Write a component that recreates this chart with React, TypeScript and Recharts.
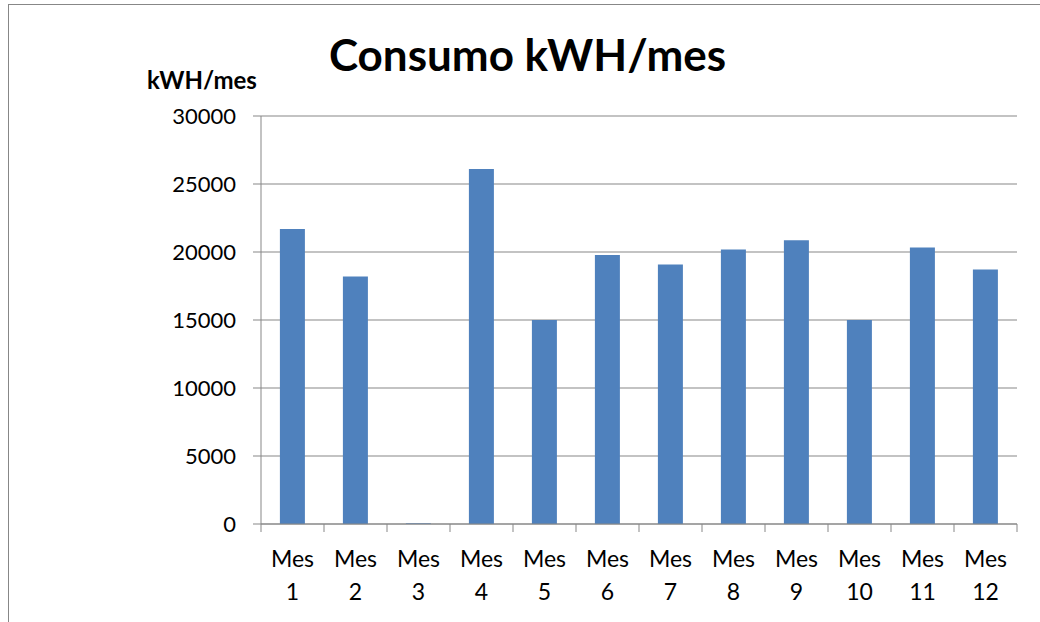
import { BarChart, Bar, XAxis, YAxis, CartesianGrid } from 'recharts';

const months = ['Mes 1', 'Mes 2', 'Mes 3', 'Mes 4', 'Mes 5', 'Mes 6', 'Mes 7', 'Mes 8', 'Mes 9', 'Mes 10', 'Mes 11', 'Mes 12'];
const consumo = [21700, 18200, 50, 26100, 15000, 19780, 19080, 20190, 20860, 15000, 20340, 18720];
const yTicks = [0, 5000, 10000, 15000, 20000, 25000, 30000];

const data = months.map((mes, i) => ({ mes, consumo: consumo[i] }));

const FONT = 'Lato, "Open Sans", sans-serif';
const GRID = '#878787';
const HALF_BAND = 31.5;

function MonthTick(props: any) {
  const { x, y, payload, index, visibleTicksCount } = props;
  const [word, num] = String(payload.value).split(' ');
  const last = index === visibleTicksCount - 1;
  return (
    <g>
      <line x1={x - HALF_BAND} x2={x - HALF_BAND} y1={y} y2={y + 8} stroke={GRID} />
      {last && <line x1={x + HALF_BAND} x2={x + HALF_BAND} y1={y} y2={y + 8} stroke={GRID} />}
      <text x={x} y={y + 43} textAnchor="middle" fontSize={23} fontFamily={FONT} fill="#000">
        {word}
      </text>
      <text x={x} y={y + 76} textAnchor="middle" fontSize={23} fontFamily={FONT} fill="#000">
        {num}
      </text>
    </g>
  );
}

export default function App() {
  return (
    <div style={{ position: 'absolute', left: 0, top: 0, width: 1040, height: 622, overflow: 'hidden', background: '#fff' }}>
      <div style={{ position: 'absolute', left: 8, top: 4, width: 1100, height: 700, border: `1px solid ${GRID}` }} />
      <div
        style={{
          position: 'absolute', left: 0, width: 1055, top: 32, textAlign: 'center',
          fontFamily: FONT, fontWeight: 700, fontSize: 44, lineHeight: 1, color: '#000',
        }}
      >
        Consumo kWH/mes
      </div>
      <div
        style={{
          position: 'absolute', left: 147, top: 68, fontFamily: FONT, fontWeight: 700,
          fontSize: 24, lineHeight: 1, color: '#000',
        }}
      >
        kWH/mes
      </div>
      <div style={{ position: 'absolute', left: 0, top: 0 }}>
        <BarChart
          width={1040}
          height={622}
          data={data}
          margin={{ top: 116, right: 23, bottom: 68, left: 0 }}
          barCategoryGap="30%"
        >
          <CartesianGrid vertical={false} stroke={GRID} strokeWidth={1} />
          <XAxis
            dataKey="mes"
            height={30}
            interval={0}
            tickSize={0}
            tickMargin={0}
            axisLine={{ stroke: GRID }}
            tick={<MonthTick />}
          />
          <YAxis
            width={261}
            domain={[0, 30000]}
            ticks={yTicks}
            interval={0}
            tickSize={8}
            tickMargin={17}
            axisLine={{ stroke: GRID }}
            tickLine={{ stroke: GRID }}
            tick={{ fontSize: 22, fontFamily: FONT, fill: '#000' }}
          />
          <Bar dataKey="consumo" fill="#4f81bd" isAnimationActive={false} />
        </BarChart>
      </div>
    </div>
  );
}
